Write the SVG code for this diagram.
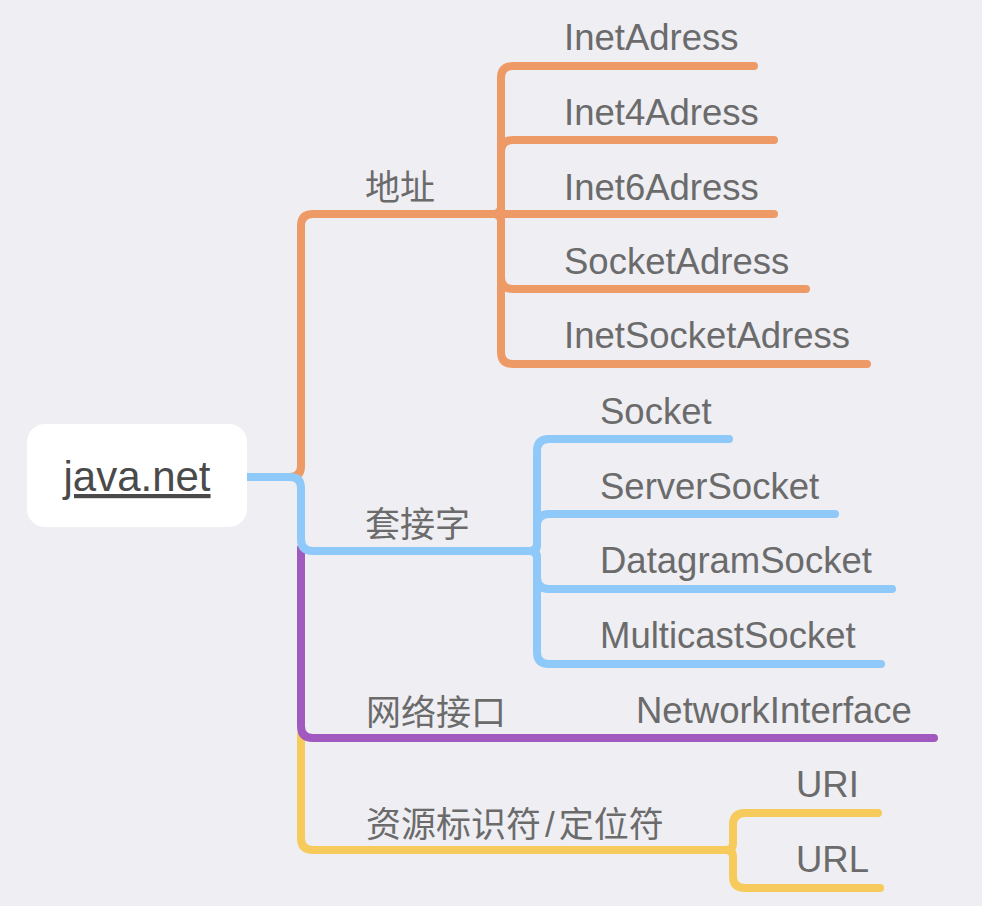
<svg xmlns="http://www.w3.org/2000/svg" width="982" height="906" viewBox="0 0 982 906">
<style>
.bg{fill:#EEEEF3}
.ln{fill:none;stroke-width:8;stroke-linecap:round;stroke-linejoin:round}
.o{stroke:#EE9A66}
.b{stroke:#8EC9FA}
.p{stroke:#A059BE}
.y{stroke:#F6CB5C}
.t{font-family:"Liberation Sans","Noto Sans CJK SC",sans-serif;font-size:36.5px;fill:#6B6B6B}
.c{font-family:"Liberation Sans","Noto Sans CJK SC",sans-serif;font-size:35px;fill:#6B6B6B}
.r{font-family:"Liberation Sans","Noto Sans CJK SC",sans-serif;font-size:42px;fill:#4A4A4A;text-decoration:underline}
</style>
<rect class="bg" x="0" y="0" width="982" height="906"/>
<g id="connectors">
  <path class="ln y" d="M301 735 L301 838 Q301 850 313 850 L726 850"/>
  <path class="ln y" d="M726 850 Q733 850 733 843 L733 825 Q733 813 745 813 L878 813"/>
  <path class="ln y" d="M726 850 Q733 850 733 857 L733 876 Q733 888 745 888 L880 888"/>
  <path class="ln p" d="M301 548 L301 726 Q301 738 313 738 L934 738"/>
  <path class="ln o" d="M290 477 Q301 477 301 466 L301 226 Q301 214 313 214 L494 214"/>
  <path class="ln o" d="M494 214 Q501 214 501 207 L501 78 Q501 66 513 66 L754 66"/>
  <path class="ln o" d="M494 214 Q501 214 501 207 L501 152 Q501 140 513 140 L774 140"/>
  <path class="ln o" d="M494 214 L774 214"/>
  <path class="ln o" d="M494 214 Q501 214 501 221 L501 277 Q501 289 513 289 L806 289"/>
  <path class="ln o" d="M494 214 Q501 214 501 221 L501 352 Q501 364 513 364 L867 364"/>
  <path class="ln b" d="M247 477 L290 477 Q301 477 301 488 L301 539 Q301 551 313 551 L530 551"/>
  <path class="ln b" d="M530 551 Q537 551 537 544 L537 451 Q537 439 549 439 L729 439"/>
  <path class="ln b" d="M530 551 Q537 551 537 544 L537 526 Q537 514 549 514 L835 514"/>
  <path class="ln b" d="M530 551 Q537 551 537 558 L537 577 Q537 589 549 589 L892 589"/>
  <path class="ln b" d="M530 551 Q537 551 537 558 L537 652 Q537 664 549 664 L881 664"/>
</g>
<g id="root">
  <rect x="27" y="424" width="220" height="103" rx="18" fill="#FFFFFF"/>
  <text class="r" x="137" y="491" text-anchor="middle">java.net</text>
</g>
<g id="n-addr"><text class="c" x="365" y="200">地址</text></g>
<g id="n-inetaddress"><text class="t" x="564" y="50">InetAdress</text></g>
<g id="n-inet4"><text class="t" x="564" y="125">Inet4Adress</text></g>
<g id="n-inet6"><text class="t" x="564" y="200">Inet6Adress</text></g>
<g id="n-socketaddr"><text class="t" x="564" y="274">SocketAdress</text></g>
<g id="n-inetsocketaddr"><text class="t" x="564" y="348">InetSocketAdress</text></g>
<g id="n-socketgroup"><text class="c" x="365" y="537">套接字</text></g>
<g id="n-socket"><text class="t" x="600" y="424">Socket</text></g>
<g id="n-serversocket"><text class="t" x="600" y="499">ServerSocket</text></g>
<g id="n-datagram"><text class="t" x="600" y="573">DatagramSocket</text></g>
<g id="n-multicast"><text class="t" x="600" y="648">MulticastSocket</text></g>
<g id="n-netif"><text class="c" x="366" y="725">网络接口</text></g>
<g id="n-networkinterface"><text class="t" x="636" y="723">NetworkInterface</text></g>
<g id="n-uri-group"><text class="c" x="366" y="837">资源标识符<tspan dx="4">/</tspan><tspan dx="4">定位符</tspan></text></g>
<g id="n-uri"><text class="t" x="796" y="797">URI</text></g>
<g id="n-url"><text class="t" x="796" y="872">URL</text></g>
</svg>
